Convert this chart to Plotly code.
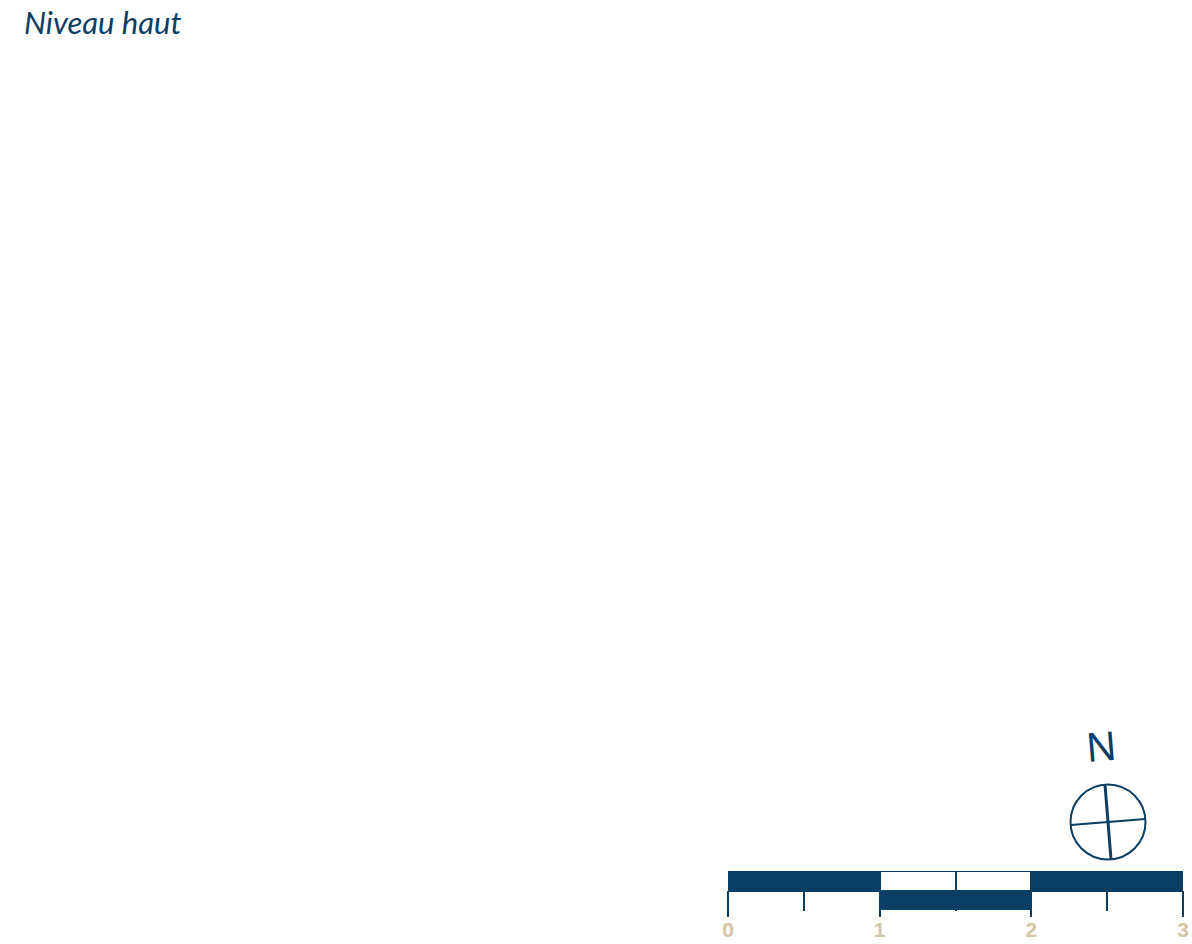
import math
import plotly.graph_objects as go

W, H = 1192, 944
DARK = "#0b3e63"
BEIGE = "#d3c6a4"

# ---- data ----
title_text = "Niveau haut"
north_label = "N"
# scale bar segments
top_starts = [0, 1, 1.5, 2]
top_ends = [1, 1.5, 2, 3]
top_filled = [True, False, False, True]
bottom_starts = [1]
bottom_ends = [2]
bottom_filled = [True]
major_ticks = [0, 1, 2, 3]
tick_labels = ["0", "1", "2", "3"]
minor_step = 0.5
compass_rotation_deg = 4.6  # counter-clockwise


def px_x(p):
    return p / W


def px_y(p):
    return (H - p) / H


fig = go.Figure()

for s, e, f in zip(top_starts, top_ends, top_filled):
    fig.add_trace(go.Bar(
        orientation="h", y=[1.5], x=[e - s], base=[s], width=1,
        marker=dict(color=DARK if f else "white", line=dict(color=DARK, width=2)),
        showlegend=False, hoverinfo="skip", xaxis="x", yaxis="y"))
for s, e, f in zip(bottom_starts, bottom_ends, bottom_filled):
    fig.add_trace(go.Bar(
        orientation="h", y=[0.5], x=[e - s], base=[s], width=1,
        marker=dict(color=DARK if f else "white", line=dict(color=DARK, width=0)),
        showlegend=False, hoverinfo="skip", xaxis="x", yaxis="y"))

a = math.radians(compass_rotation_deg)
ca, sa = math.cos(a), math.sin(a)
fig.add_trace(go.Scatter(
    x=[-sa, sa], y=[ca, -ca], mode="lines",
    line=dict(color=DARK, width=3), showlegend=False, hoverinfo="skip",
    xaxis="x2", yaxis="y2"))
fig.add_trace(go.Scatter(
    x=[-ca, ca], y=[-sa, sa], mode="lines",
    line=dict(color=DARK, width=2), showlegend=False, hoverinfo="skip",
    xaxis="x2", yaxis="y2"))

fig.add_shape(type="circle", xref="x2", yref="y2", x0=-1, y0=-1, x1=1, y1=1,
              line=dict(color=DARK, width=2), fillcolor="rgba(0,0,0,0)")

fig.update_layout(
    template="none",
    width=W, height=H,
    margin=dict(l=0, r=0, t=0, b=0, pad=0),
    paper_bgcolor="white", plot_bgcolor="rgba(0,0,0,0)",
    bargap=0, barmode="overlay", showlegend=False,
    xaxis=dict(
        domain=[px_x(728), px_x(1183)], range=[0, 3], anchor="free",
        position=px_y(890), showgrid=False, zeroline=False, showline=False,
        automargin=False,
        tickvals=major_ticks, ticktext=tick_labels, ticks="outside",
        ticklen=26, tickwidth=2, tickcolor=DARK, layer="below traces",
        ticklabelstandoff=-5,
        tickfont=dict(family="Liberation Sans Narrow, Arial Narrow, Liberation Sans, Arial",
                      size=21, color=BEIGE, weight="bold"),
        minor=dict(dtick=minor_step, tick0=0, ticks="outside", ticklen=20,
                   tickwidth=2, tickcolor=DARK, showgrid=False),
        fixedrange=True),
    yaxis=dict(
        domain=[px_y(910), px_y(871)], range=[0, 2], visible=False,
        automargin=False, fixedrange=True),
    xaxis2=dict(domain=[px_x(1069), px_x(1147)], range=[-39 / 37.5, 39 / 37.5],
                visible=False, anchor="y2", automargin=False, fixedrange=True),
    yaxis2=dict(domain=[px_y(861), px_y(783)], range=[-39 / 37.5, 39 / 37.5],
                visible=False, anchor="x2", automargin=False, fixedrange=True),
    annotations=[
        dict(text=title_text, xref="paper", yref="paper", x=px_x(22), y=px_y(22),
             xanchor="left", yanchor="middle", showarrow=False,
             font=dict(family="Lato, Open Sans, sans-serif", size=31, color=DARK, style="italic")),
        dict(text=north_label, xref="paper", yref="paper", x=px_x(1100.5), y=px_y(745),
             xanchor="center", yanchor="middle", showarrow=False,
             textangle=-compass_rotation_deg,
             font=dict(family="Noto Sans, sans-serif", size=40, color=DARK)),
    ],
)

fig.write_html("out.html", config={"displayModeBar": False},
               post_script="document.body.style.margin='0';document.body.style.overflow='hidden';")
